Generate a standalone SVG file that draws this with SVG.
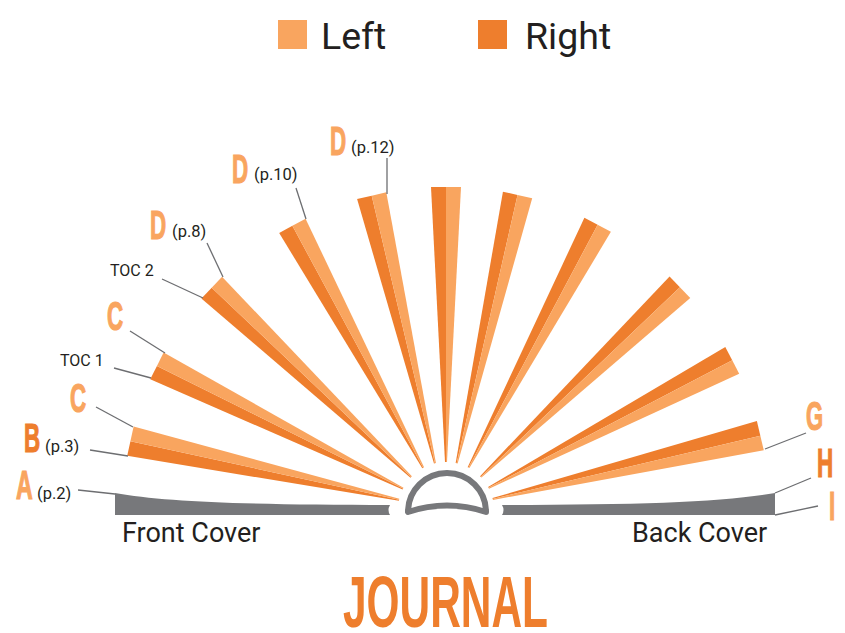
<svg xmlns="http://www.w3.org/2000/svg" width="845" height="633" viewBox="0 0 845 633">
<style>
.lt{fill:#F9A55F}
.dk{fill:#EE7E2D}
.cover{fill:#77787B}
.dome{fill:none;stroke:#77787B;stroke-width:6;stroke-linejoin:round}
.lead{stroke:#6D6E71;stroke-width:1.3;fill:none}
.txt{font-family:Roboto,"Liberation Sans",sans-serif;fill:#231F20}
.big{font-family:"Liberation Sans",Arial,sans-serif;font-weight:bold;font-size:40px;stroke-width:1.2px}
.ltx{fill:#F9A55F;stroke:#F9A55F}
.dkx{fill:#EE7E2D;stroke:#EE7E2D}
</style>
<defs>
<g id="ray">
<path class="dk" d="M446,462 L445,462 L431,187 L446,187 Z"/>
<path class="lt" d="M446,462 L446,187 L461,187 L447,462 Z"/>
</g>
</defs>
<g id="legend">
<rect class="lt" x="278" y="20" width="29" height="29"/>
<text class="txt" x="321" y="49" font-size="37.5">Left</text>
<rect class="dk" x="478" y="20" width="29" height="29"/>
<text class="txt" x="525" y="49" font-size="37.5">Right</text>
</g>
<g id="rays">
<use href="#ray" transform="rotate(-77.7 446 510)"/>
<use href="#ray" transform="rotate(-63.5 446 510)"/>
<use href="#ray" transform="rotate(-46.5 446 510)"/>
<use href="#ray" transform="rotate(-28.4 446 510)"/>
<use href="#ray" transform="rotate(-13.3 446 510)"/>
<use href="#ray"/>
<use href="#ray" transform="rotate(12.8 446 510)"/>
<use href="#ray" transform="rotate(28 446 510)"/>
<use href="#ray" transform="rotate(46.4 446 510)"/>
<use href="#ray" transform="rotate(62.4 446 510)"/>
<use href="#ray" transform="rotate(76.7 446 510)"/>
</g>
<g id="book">
<path class="cover" d="M115,493 C165,502 250,505 390,505 Q387,510 390,515 L115,515 Z"/>
<path class="cover" d="M775,493 C725,502 640,505 502,505 Q505,510 502,515 L775,515 Z"/>
<path class="dome" d="M408,512 A39,39 0 0 1 486,512 Q447,499 408,512 Z"/>
</g>
<g id="connectors">
<line class="lead" x1="78" y1="490" x2="115" y2="494"/>
<line class="lead" x1="90" y1="450" x2="128" y2="456"/>
<line class="lead" x1="96" y1="407" x2="133" y2="427"/>
<line class="lead" x1="114" y1="368" x2="151" y2="378"/>
<line class="lead" x1="130" y1="331" x2="165" y2="353"/>
<line class="lead" x1="162" y1="279" x2="203" y2="298"/>
<line class="lead" x1="207" y1="243" x2="223" y2="277"/>
<line class="lead" x1="296" y1="188" x2="306" y2="219"/>
<line class="lead" x1="387" y1="158" x2="387" y2="194"/>
<line class="lead" x1="806" y1="433" x2="765" y2="449"/>
<line class="lead" x1="811" y1="478" x2="775" y2="493"/>
<line class="lead" x1="818" y1="506" x2="775" y2="515"/>
</g>
<g id="label-a">
<text class="big ltx" transform="translate(16,499) scale(0.58,1)">A</text>
<text class="txt" x="37" y="499" font-size="16.5">(p.2)</text>
</g>
<g id="label-b">
<text class="big dkx" transform="translate(24,452) scale(0.56,1)">B</text>
<text class="txt" x="45" y="452" font-size="16.5">(p.3)</text>
</g>
<g id="label-c1">
<text class="big ltx" transform="translate(70,412) scale(0.56,1)">C</text>
</g>
<g id="label-toc1">
<text class="txt" x="60" y="366" font-size="16">TOC 1</text>
</g>
<g id="label-c2">
<text class="big ltx" transform="translate(107,330) scale(0.56,1)">C</text>
</g>
<g id="label-toc2">
<text class="txt" x="110" y="276" font-size="16">TOC 2</text>
</g>
<g id="label-d8">
<text class="big ltx" transform="translate(150,239) scale(0.56,1)">D</text>
<text class="txt" x="172" y="237" font-size="16.5">(p.8)</text>
</g>
<g id="label-d10">
<text class="big ltx" transform="translate(232,183) scale(0.56,1)">D</text>
<text class="txt" x="254" y="180" font-size="16.5">(p.10)</text>
</g>
<g id="label-d12">
<text class="big ltx" transform="translate(330,155) scale(0.56,1)">D</text>
<text class="txt" x="351" y="153" font-size="16.5">(p.12)</text>
</g>
<g id="label-g">
<text class="big ltx" transform="translate(806,430) scale(0.55,1)">G</text>
</g>
<g id="label-h">
<text class="big dkx" transform="translate(817,477) scale(0.56,1)">H</text>
</g>
<g id="label-i">
<text class="big ltx" transform="translate(829,520) scale(0.56,1)">I</text>
</g>
<g id="covers">
<text class="txt" x="122" y="542" font-size="27">Front Cover</text>
<text class="txt" x="632" y="542" font-size="27">Back Cover</text>
</g>
<g id="title">
<text transform="translate(343,627) scale(0.589,1)" font-family="'Liberation Sans',Arial,sans-serif" font-weight="bold" font-size="72" fill="#EE7E2D">JOURNAL</text>
</g>
</svg>
